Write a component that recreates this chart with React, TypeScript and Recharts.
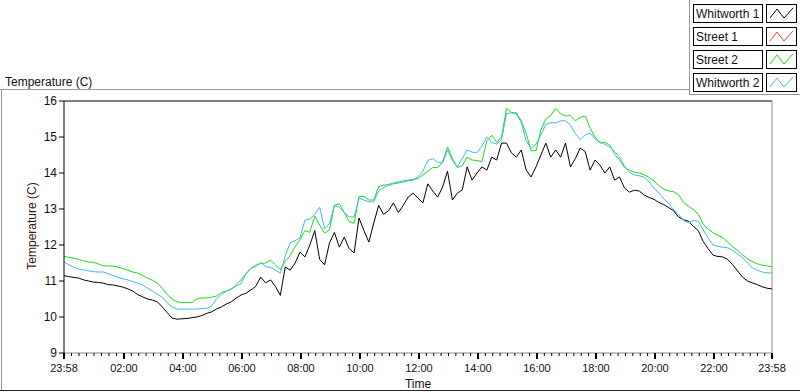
import { LineChart, Line, XAxis, YAxis, ReferenceLine } from 'recharts';

// sample times: minutes after 23:58, one reading every 10 min
const times = Array.from({ length: 145 }, (_, i) => i * 10);

const whitworth1 = [
  11.15, 11.12, 11.1, 11.08, 11.03, 11.0, 10.97, 10.96, 10.94, 10.9, 10.89, 10.86, 10.83, 10.78, 10.72, 10.62,
  10.56, 10.5, 10.47, 10.42, 10.28, 10.12, 9.97, 9.94, 9.95, 9.96, 9.98, 10.0, 10.04, 10.1, 10.14, 10.22,
  10.28, 10.36, 10.42, 10.52, 10.61, 10.66, 10.75, 10.85, 11.11, 10.95, 11.03, 10.85, 10.6, 11.39, 11.3, 11.5,
  11.8, 11.67, 12.0, 12.4, 11.6, 11.45, 12.06, 12.35, 11.94, 12.22, 11.9, 11.78, 12.75, 12.4, 12.08, 12.61,
  13.1, 12.85, 12.95, 13.17, 12.9, 13.1, 13.33, 13.44, 13.3, 13.17, 13.7, 13.5, 13.33, 13.61, 14.05, 13.25,
  13.44, 13.53, 14.17, 13.8, 14.0, 14.17, 14.08, 14.44, 14.36, 14.83, 14.83, 14.56, 14.44, 14.64, 14.08, 13.89,
  14.17, 14.5, 14.83, 14.44, 14.64, 14.44, 14.83, 14.17, 14.4, 14.69, 14.6, 14.08, 14.36, 14.22, 14.0, 14.17,
  13.8, 13.89, 13.58, 13.47, 13.52, 13.5, 13.39, 13.32, 13.27, 13.18, 13.12, 13.04, 12.95, 12.78, 12.7, 12.66,
  12.52, 12.4, 12.1, 11.9, 11.72, 11.68, 11.67, 11.6, 11.45, 11.28, 11.11, 11.0, 10.95, 10.9, 10.84, 10.8,
  10.78,
];

// Street 1 has no visible trace in the picture
const street1: number[] = [];

const street2 = [
  11.68, 11.66, 11.63, 11.6, 11.56, 11.53, 11.52, 11.47, 11.42, 11.42, 11.41, 11.39, 11.34, 11.3, 11.25, 11.22,
  11.15, 11.08, 11.02, 10.94, 10.8, 10.62, 10.5, 10.42, 10.4, 10.4, 10.4, 10.5, 10.53, 10.53, 10.55, 10.58,
  10.68, 10.72, 10.76, 10.9, 11.03, 11.2, 11.35, 11.44, 11.48, 11.5, 11.58, 11.45, 11.31, 11.55, 11.7, 11.95,
  12.15, 12.4, 12.35, 12.8, 12.55, 12.33, 12.42, 13.1, 13.15, 12.9, 12.65, 12.6, 13.35, 13.35, 13.25, 13.25,
  13.62, 13.66, 13.68, 13.72, 13.75, 13.78, 13.8, 13.82, 13.85, 13.95, 14.05, 14.15, 14.15, 14.3, 14.72, 14.4,
  14.15, 14.2, 14.44, 14.36, 14.35, 14.31, 14.9, 15.05, 14.85, 15.0, 15.8, 15.68, 15.67, 15.45, 15.1, 14.62,
  14.62, 15.2, 15.5, 15.6, 15.8, 15.65, 15.58, 15.6, 15.45, 15.55, 15.58, 15.25, 15.0, 14.83, 14.85, 14.78,
  14.52, 14.36, 14.15, 14.08, 14.02, 14.0, 13.95, 13.88, 13.78, 13.65, 13.55, 13.5, 13.48, 13.4, 13.18, 13.08,
  12.98, 12.86, 12.58, 12.44, 12.34, 12.27, 12.2, 12.08, 11.95, 11.85, 11.73, 11.62, 11.54, 11.48, 11.44, 11.42,
  11.39,
];

const whitworth2 = [
  11.53, 11.45, 11.38, 11.33, 11.31, 11.28, 11.26, 11.25, 11.25, 11.2, 11.15, 11.1, 11.06, 11.03, 10.98, 10.94,
  10.89, 10.8, 10.72, 10.63, 10.55, 10.39, 10.28, 10.22, 10.22, 10.22, 10.22, 10.22, 10.24, 10.24, 10.3, 10.5,
  10.62, 10.72, 10.78, 10.86, 10.92, 11.2, 11.35, 11.4, 11.52, 11.4, 11.38, 11.3, 11.22, 11.7, 12.06, 12.12,
  12.2, 12.69, 12.72, 12.85, 13.05, 12.45, 12.6, 13.1, 13.05, 12.9, 12.78, 12.78, 13.3, 13.25, 13.2, 13.2,
  13.5, 13.6, 13.65, 13.7, 13.72, 13.75, 13.78, 13.8, 13.9, 14.05, 14.35, 14.4, 14.3, 14.28, 14.64, 14.35,
  14.17, 14.4, 14.64, 14.58, 14.56, 14.75, 15.0, 14.85, 14.8, 14.92, 15.65, 15.67, 15.65, 15.4, 14.9, 14.68,
  14.8, 15.05, 15.35, 15.4, 15.39, 15.45, 15.45, 15.33, 15.1, 14.92, 15.05, 15.11, 14.95, 14.86, 14.8, 14.72,
  14.6, 14.44, 14.2, 14.02, 13.95, 13.92, 13.89, 13.75, 13.58, 13.45, 13.28, 13.15, 12.98, 12.85, 12.68, 12.62,
  12.68, 12.66, 12.42, 12.2, 12.0, 11.96, 11.94, 11.92, 11.85, 11.75, 11.65, 11.5, 11.37, 11.3, 11.25, 11.23,
  11.22,
];

const legendNames = ['Whitworth 1', 'Street 1', 'Street 2', 'Whitworth 2'];
const majorTicks = [0, 122, 242, 362, 482, 602, 722, 842, 962, 1082, 1202, 1322, 1440];
const majorLabels = ['23:58', '02:00', '04:00', '06:00', '08:00', '10:00', '12:00', '14:00', '16:00', '18:00', '20:00', '22:00', '23:58'];
const yTicks = [9, 10, 11, 12, 13, 14, 15, 16];

const colors = ['#000000', '#ff3b3b', '#16e016', '#44b6f2'];
const FONT = '"Liberation Sans", Arial, sans-serif';

// 8 tick steps between labelled ticks
const allTicks: number[] = [];
majorTicks.forEach((m, i) => {
  if (i === majorTicks.length - 1) {
    allTicks.push(m);
    return;
  }
  const next = majorTicks[i + 1];
  for (let k = 0; k < 8; k++) allTicks.push(m + ((next - m) * k) / 8);
});

const data = times.map((t, i) => ({
  t,
  w1: whitworth1[i],
  s1: street1[i],
  s2: street2[i],
  w2: whitworth2[i],
}));

function TimeTick(props: any) {
  const { x, y, payload } = props;
  const idx = majorTicks.indexOf(payload.value);
  const major = idx >= 0;
  return (
    <g>
      <line x1={x} x2={x} y1={y} y2={y + (major ? 6 : 3)} stroke="#000" strokeWidth={major ? 2 : 1} />
      {major && (
        <text x={x} y={y + 19} textAnchor="middle" fontSize={11} fontFamily={FONT} fill="#111">
          {majorLabels[idx]}
        </text>
      )}
    </g>
  );
}

function Swatch({ x, y, color }: { x: number; y: number; color: string }) {
  return (
    <g>
      <rect x={x + 0.5} y={y + 0.5} width={30} height={18} fill="#fff" stroke="#000" />
      <polyline
        points={`${x + 4},${y + 14} ${x + 11},${y + 5} ${x + 18},${y + 14} ${x + 27},${y + 4}`}
        fill="none"
        stroke={color}
        strokeWidth={1}
      />
    </g>
  );
}

export default function App() {
  return (
    <div style={{ position: 'absolute', left: 0, top: 0, width: 800, height: 392, background: '#fff', overflow: 'hidden' }}>
      <LineChart width={800} height={392} data={data} margin={{ top: 101, right: 28, left: 34, bottom: 9 }}>
        <XAxis
          dataKey="t"
          type="number"
          domain={[0, 1440]}
          ticks={allTicks}
          interval={0}
          tick={<TimeTick />}
          tickLine={false}
          tickSize={0}
          tickMargin={0}
          height={30}
          axisLine={{ stroke: '#8c8c8c' }}
        />
        <YAxis
          domain={[9, 16]}
          ticks={yTicks}
          interval={0}
          width={30}
          tickSize={5}
          tickMargin={2}
          axisLine={{ stroke: '#000' }}
          tickLine={{ stroke: '#000' }}
          tick={{ fill: '#111', fontSize: 12, fontFamily: FONT }}
        />
        <ReferenceLine y={16} stroke="#000" />
        <ReferenceLine x={1440} stroke="#8c8c8c" />
        <Line dataKey="w1" stroke={colors[0]} strokeWidth={1} dot={false} isAnimationActive={false} />
        <Line dataKey="s1" stroke={colors[1]} strokeWidth={1} dot={false} isAnimationActive={false} />
        <Line dataKey="s2" stroke={colors[2]} strokeWidth={1} dot={false} isAnimationActive={false} />
        <Line dataKey="w2" stroke={colors[3]} strokeWidth={1} dot={false} isAnimationActive={false} />
      </LineChart>

      <svg width={800} height={392} style={{ position: 'absolute', left: 0, top: 0, pointerEvents: 'none' }}>
        {/* panel frame */}
        <line x1={0} x2={689} y1={89.5} y2={89.5} stroke="#9a9a9a" />
        <line x1={689.5} x2={689.5} y1={0} y2={94} stroke="#9a9a9a" />
        <line x1={689} x2={800} y1={94.5} y2={94.5} stroke="#9a9a9a" />
        <line x1={1.5} x2={1.5} y1={89} y2={390} stroke="#9a9a9a" />
        <line x1={0} x2={800} y1={390.5} y2={390.5} stroke="#222" />

        <text x={5} y={86} fontSize={12} fontFamily={FONT} fill="#111">
          Temperature (C)
        </text>
        <text x={36} y={226} fontSize={12} fontFamily={FONT} fill="#3a1414" textAnchor="middle" transform="rotate(-90 36 226)">
          Temperature (C)
        </text>
        <text x={418} y={388} fontSize={12} fontFamily={FONT} fill="#111" textAnchor="middle">
          Time
        </text>

        {legendNames.map((name, i) => {
          const top = 4 + i * 23;
          return (
            <g key={name}>
              <rect x={693.5} y={top + 0.5} width={69} height={18} fill="#fff" stroke="#000" />
              <text x={696} y={top + 14} fontSize={12} fontFamily={FONT} fill="#111">
                {name}
              </text>
              <Swatch x={766} y={top} color={colors[i]} />
            </g>
          );
        })}
      </svg>
    </div>
  );
}
